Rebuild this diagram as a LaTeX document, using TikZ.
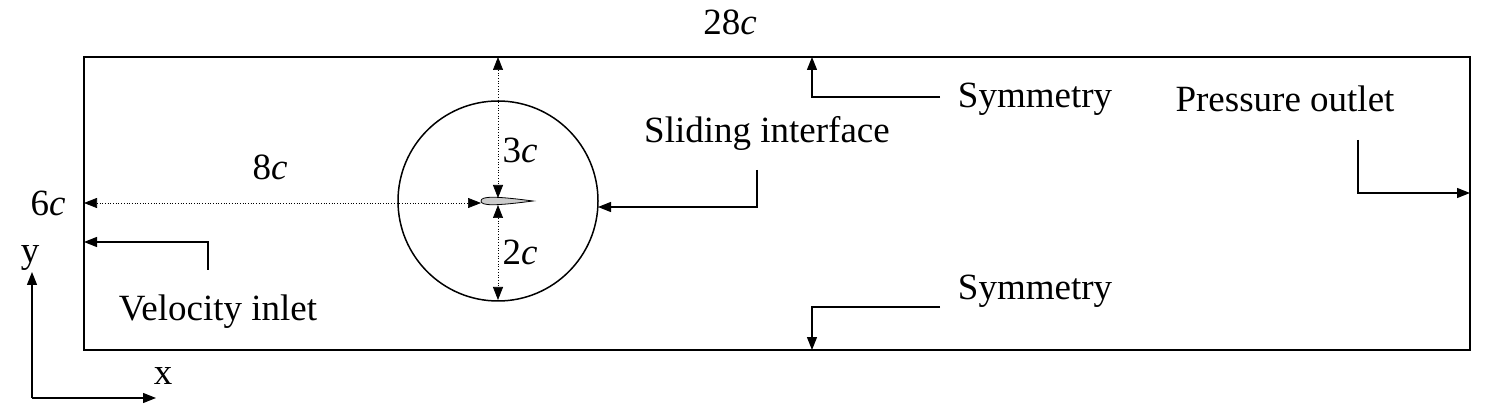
\documentclass[tikz,border=0pt]{standalone}
\usepackage{fontspec}
\setmainfont{Liberation Serif}
\usetikzlibrary{arrows.meta}
\begin{document}
\begin{tikzpicture}[x=1pt,y=-1pt,
  lbl/.style={font=\fontsize{37}{40}\selectfont, inner sep=0pt},
  ar/.style={line width=1.2pt,-{Triangle[length=13pt,width=10pt]}},
  dim/.style={line width=0.7pt,dotted,{Triangle[length=13pt,width=10pt]}-{Triangle[length=13pt,width=10pt]}}]
\useasboundingbox (0,0) rectangle (1506,411);
\draw[line width=1.5pt] (84,57) rectangle (1470,350);
\node[circle,draw,line width=1.5pt,minimum size=200pt,inner sep=0pt] (circ) at (498,201) {};
\draw[fill=gray!40,line width=0.8pt] (481,201) .. controls (481,196) and (495,196) .. (533,201) .. controls (495,206) and (481,206) .. (481,201);
\coordinate (le) at (481,203);
\coordinate (lw) at (84,203);
\coordinate (tt) at (498,57);
\coordinate (at) at (498,198);
\coordinate (ab) at (498,205);
\coordinate (cb) at (498,300);
\draw[dim] (lw) -- (le);
\draw[dim] (tt) -- (at);
\draw[dim] (ab) -- (cb);
\node[lbl] (l28) at (730,22) {28\textit{c}};
\node[lbl] (l6) at (48,203) {6\textit{c}};
\node[lbl] (l8) at (270,167) {8\textit{c}};
\node[lbl] (l3) at (520,150) {3\textit{c}};
\node[lbl] (l2) at (520,252) {2\textit{c}};
\node[lbl] (sym1) at (1035,99) {Symmetry};
\node[lbl] (sym2) at (1035,291) {Symmetry};
\node[lbl] (po) at (1285,99) {Pressure outlet};
\node[lbl] (si) at (767,133) {Sliding interface};
\node[lbl] (vi) at (218,312) {Velocity inlet};
\coordinate (s1) at (940,97); \coordinate (s1t) at (812,57);
\draw[ar] (s1) -- (812,97) -- (s1t);
\coordinate (s2) at (940,307); \coordinate (s2t) at (812,350);
\draw[ar] (s2) -- (812,307) -- (s2t);
\coordinate (p1) at (1358,140); \coordinate (p1t) at (1470,193);
\draw[ar] (p1) -- (1358,193) -- (p1t);
\coordinate (q1) at (757,170); \coordinate (q1t) at (598,207);
\draw[ar] (q1) -- (757,207) -- (q1t);
\coordinate (v1) at (208,270); \coordinate (v1t) at (84,242);
\draw[ar] (v1) -- (208,242) -- (v1t);
\coordinate (o) at (32,398); \coordinate (oy) at (32,272); \coordinate (ox) at (156,398);
\draw[ar] (o) -- (oy);
\draw[ar] (o) -- (ox);
\node[lbl] (ly) at (30,258) {y};
\node[lbl] (lx) at (163,376) {x};
\end{tikzpicture}
\end{document}
